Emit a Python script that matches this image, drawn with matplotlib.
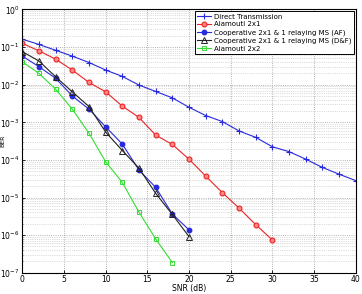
import numpy as np
import matplotlib
matplotlib.use("Agg")
import matplotlib.pyplot as plt
from matplotlib.ticker import NullFormatter, LogLocator

snr_direct = list(range(0, 41, 2))
ber_direct_log = [-0.79, -0.93, -1.085, -1.24, -1.41, -1.61, -1.78, -2.01, -2.18, -2.35,
                  -2.60, -2.82, -2.98, -3.23, -3.40, -3.65, -3.78, -3.98, -4.20, -4.38, -4.55]
snr_ala21 = list(range(0, 31, 2))
ber_ala21_log = [-0.90, -1.10, -1.32, -1.61, -1.94, -2.19, -2.57, -2.87, -3.34, -3.59,
                 -3.98, -4.43, -4.87, -5.28, -5.72, -6.13]
snr_coop = list(range(0, 21, 2))
ber_af_log = [-1.24, -1.52, -1.83, -2.30, -2.65, -3.12, -3.58, -4.27, -4.73, -5.44, -5.86]
ber_df_log = [-1.12, -1.37, -1.79, -2.19, -2.58, -3.26, -3.75, -4.22, -4.89, -5.45, -6.04]
snr_ala22 = list(range(0, 19, 2))
ber_ala22_log = [-1.39, -1.70, -2.12, -2.65, -3.29, -4.05, -4.60, -5.39, -6.10, -6.73]

labels = ["Direct Transmission", "Alamouti 2x1",
          "Cooperative 2x1 & 1 relaying MS (AF)",
          "Cooperative 2x1 & 1 relaying MS (D&F)", "Alamouti 2x2"]

fig = plt.figure(figsize=(3.62, 2.94), dpi=100)
ax = fig.add_axes([0.0616, 0.0724, 0.921, 0.8953])
lw = 0.8
ax.semilogy(snr_direct, 10 ** np.array(ber_direct_log), color='#2a2add', marker='+',
            ms=4, lw=lw, mew=0.8, label=labels[0])
ax.semilogy(snr_ala21, 10 ** np.array(ber_ala21_log), color='#ee2222', marker='o',
            ms=3.5, lw=lw, mfc='#ff8888', mec='#ee2222', mew=0.8, label=labels[1])
ax.semilogy(snr_coop, 10 ** np.array(ber_af_log), color='#2a2add', marker='o',
            ms=3.2, lw=lw, mfc='#2a2add', label=labels[2])
ax.semilogy(snr_coop, 10 ** np.array(ber_df_log), color='#222222', marker='^',
            ms=4, lw=lw, mfc='none', mew=0.7, label=labels[3])
ax.semilogy(snr_ala22, 10 ** np.array(ber_ala22_log), color='#33dd33', marker='s',
            ms=3.5, lw=lw, mfc='none', mew=0.7, label=labels[4])

ax.set_xlim(0, 40)
ax.set_ylim(1e-7, 1)
ax.set_xticks(range(0, 41, 5))
ax.yaxis.set_minor_locator(LogLocator(base=10, subs=np.arange(2, 10), numticks=20))
ax.yaxis.set_minor_formatter(NullFormatter())
ax.grid(True, which='major', ls=':', color='#999999', lw=0.6)
ax.grid(True, which='minor', axis='y', ls=':', color='#bbbbbb', lw=0.5)
ax.tick_params(labelsize=5.5, direction='in', length=2, width=0.6, pad=2)
ax.tick_params(which='minor', direction='in', length=1, width=0.4)
for s in ax.spines.values():
    s.set_linewidth(0.8)
ax.set_xlabel("SNR (dB)", fontsize=5.5, labelpad=0)
ax.set_ylabel("BER", fontsize=4.5)
ax.yaxis.set_label_coords(-0.052, 0.5)

leg = ax.legend(loc='upper right', fontsize=5, frameon=True, fancybox=False,
                edgecolor='black', framealpha=1, borderpad=0.35, labelspacing=0.25,
                handlelength=2.0, handletextpad=0.4, borderaxespad=0.25)
leg.get_frame().set_linewidth(0.7)

fig.savefig("out.png", dpi=100)
